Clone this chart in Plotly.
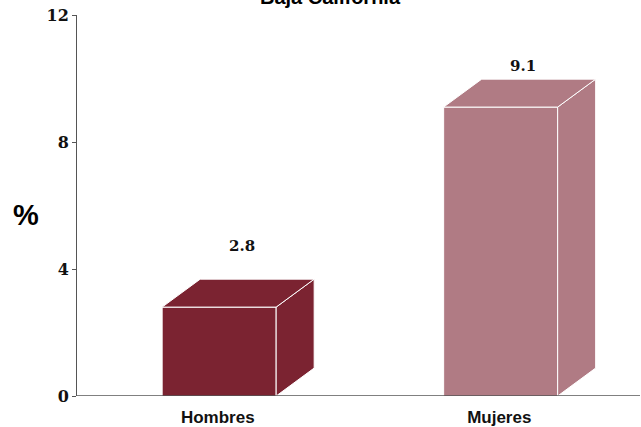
import plotly.graph_objects as go

categories = ["Hombres", "Mujeres"]
values = [2.8, 9.1]
value_labels = ["2.8", "9.1"]
y_ticks = [0, 4, 8, 12]

front_colors = ["#7B2331", "#B07B84"]

# 3D geometry (in data units)
bar_w = 0.405
depth_x = 0.135
depth_y = 0.88
label_shift_px = [22, 2]

fig = go.Figure()

for i, (cat, v) in enumerate(zip(categories, values)):
    xl = i - bar_w / 2 + 0.005
    xr = i + bar_w / 2 + 0.005
    col = front_colors[i]
    # front face
    fig.add_trace(go.Scatter(
        x=[xl, xr, xr, xl, xl], y=[0, 0, v, v, 0],
        fill="toself", fillcolor=col, mode="lines",
        line=dict(color="white", width=1), hoverinfo="skip", showlegend=False))
    # right side
    fig.add_trace(go.Scatter(
        x=[xr, xr + depth_x, xr + depth_x, xr, xr],
        y=[0, depth_y, v + depth_y, v, 0],
        fill="toself", fillcolor=col, mode="lines",
        line=dict(color="white", width=1), hoverinfo="skip", showlegend=False))
    # top
    fig.add_trace(go.Scatter(
        x=[xl, xl + depth_x, xr + depth_x, xr, xl],
        y=[v, v + depth_y, v + depth_y, v, v],
        fill="toself", fillcolor=col, mode="lines",
        line=dict(color="white", width=1), hoverinfo="skip", showlegend=False))
    fig.add_annotation(
        x=i + 0.085, y=v + depth_y, text=f"<b>{value_labels[i]}</b>", showarrow=False,
        yanchor="bottom", yshift=label_shift_px[i],
        font=dict(family="DejaVu Serif, Liberation Serif, serif", size=15, color="#111"))

fig.update_layout(
    width=641, height=427,
    margin=dict(l=77, r=1, t=15, b=31, autoexpand=False),
    plot_bgcolor="white", paper_bgcolor="white",
    showlegend=False,
    xaxis=dict(range=[-0.5, 1.5], tickvals=list(range(len(categories))),
               ticktext=[f"<b>{c}</b>" for c in categories],
               showgrid=False, zeroline=False, showline=False, ticks="",
               automargin=False, ticklabelstandoff=9,
               tickfont=dict(family="Liberation Sans, Arial, sans-serif", size=17, color="#111")),
    yaxis=dict(range=[0, 12], tickvals=y_ticks,
               ticktext=[f"<b>{t}</b>" for t in y_ticks],
               showgrid=False, zeroline=False, showline=True, linecolor="#555", linewidth=1,
               ticks="outside", ticklen=4, tickcolor="#555",
               automargin=False, ticklabeloverflow="allow",
               tickfont=dict(family="DejaVu Serif, Liberation Serif, serif", size=16, color="#111")),
)

# title, partially above the page as in the reference
fig.add_annotation(text="<b>Baja California</b>", xref="paper", yref="paper",
                   x=(330 - 77) / 563, y=1, xanchor="center", yanchor="middle", yshift=18,
                   showarrow=False,
                   font=dict(family="Liberation Sans, Arial, sans-serif", size=20, color="black"))

# x axis baseline from the y-axis to the right edge
fig.add_shape(type="line", xref="paper", yref="y", x0=0, x1=1, y0=0, y1=0,
              line=dict(color="black", width=1))

fig.add_annotation(text="<b>%</b>", xref="paper", yref="paper", x=(26 - 77) / 563, y=(396 - 215) / 381,
                   showarrow=False, xanchor="center", yanchor="middle",
                   font=dict(family="Liberation Sans, Arial, sans-serif", size=29, color="black"))

fig.write_html("out.html", config={"displayModeBar": False},
               post_script="document.body.style.margin='0';document.body.style.overflow='hidden';")
